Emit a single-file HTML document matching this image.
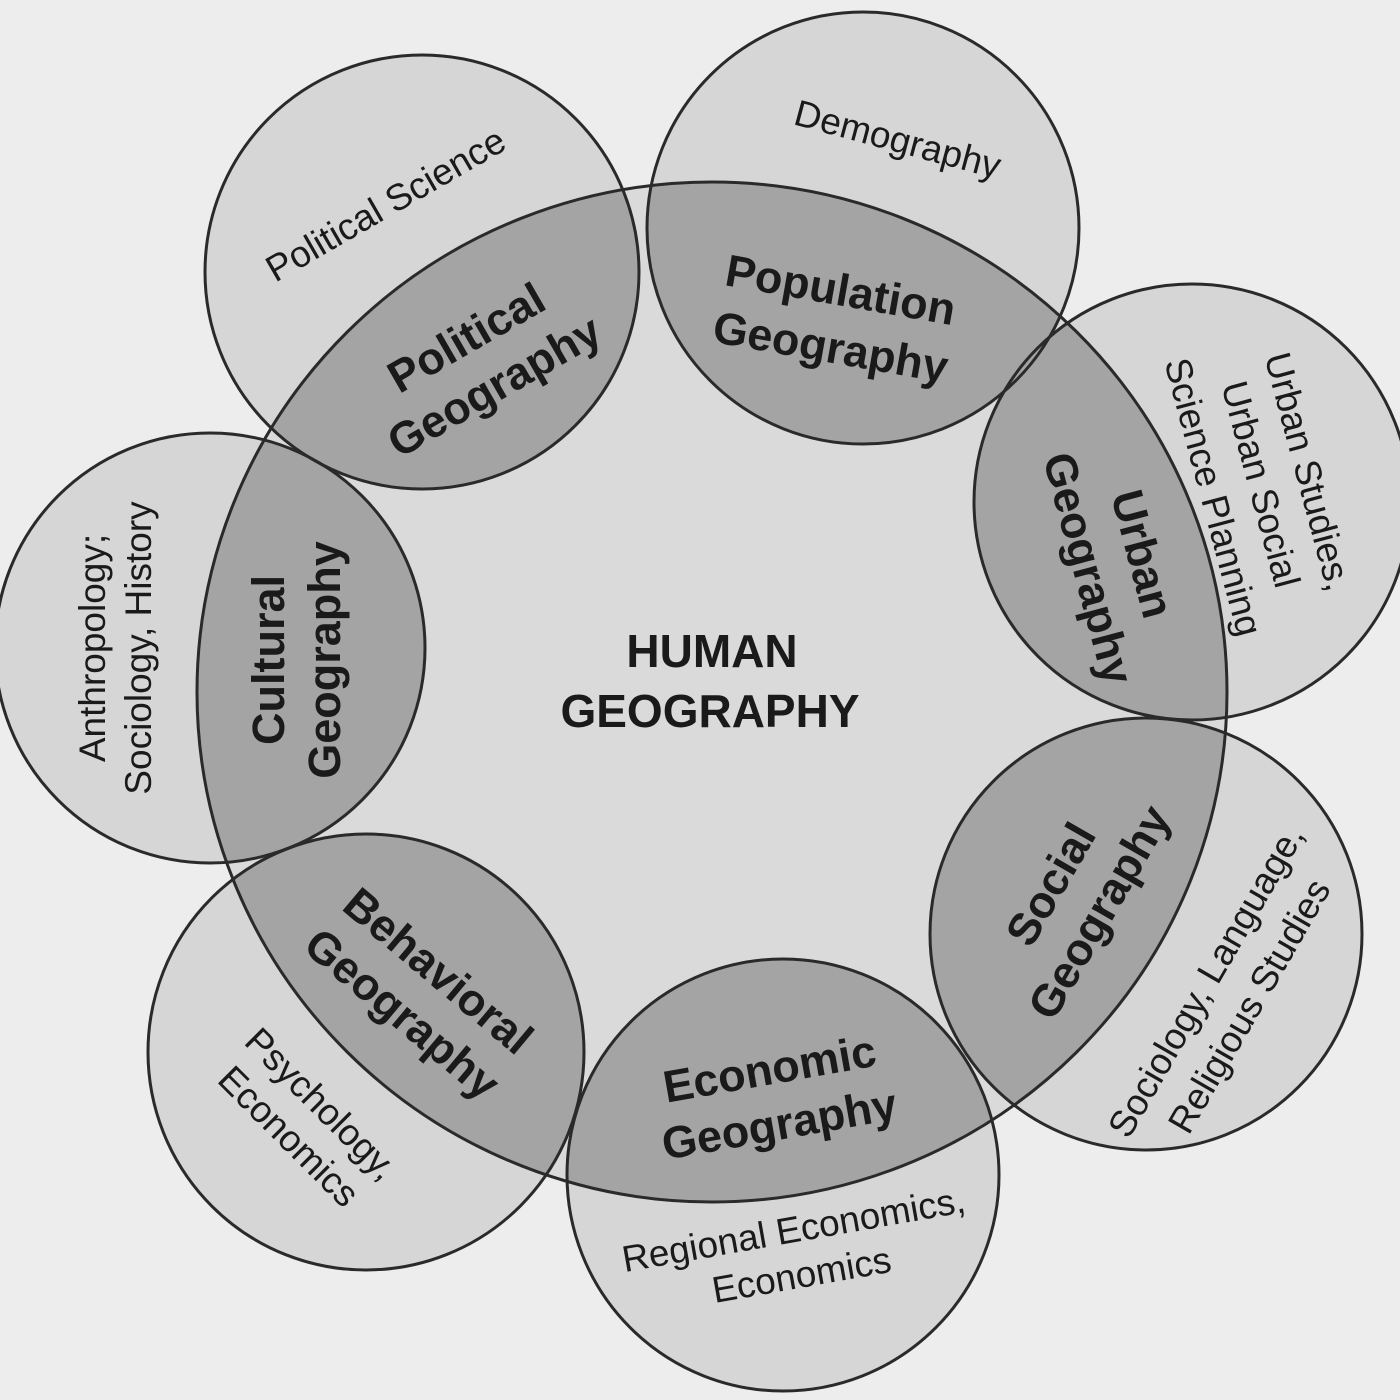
<!DOCTYPE html>
<html><head><meta charset="utf-8"><style>
html,body{margin:0;padding:0;background:#ededed}
svg{display:block}
text{font-family:"Liberation Sans",sans-serif;fill:#1a1a1a;text-anchor:middle;dominant-baseline:middle}
.b{font-weight:bold;font-size:45px}
.n{font-size:37px}
.h{font-weight:bold;font-size:46px}
</style></head><body>
<svg width="1400" height="1400" viewBox="0 0 1400 1400" xmlns="http://www.w3.org/2000/svg">
<defs>
<clipPath id="el"><ellipse cx="712" cy="692" rx="515" ry="510"/></clipPath>
<g id="circs">
<circle cx="422" cy="272" r="217"/>
<circle cx="863" cy="228" r="216"/>
<circle cx="1192" cy="502" r="218"/>
<circle cx="1146" cy="934" r="216"/>
<circle cx="783" cy="1175" r="216"/>
<circle cx="366" cy="1052" r="218"/>
<circle cx="210" cy="648" r="215"/>
</g>
</defs>
<rect width="1400" height="1400" fill="#ededed"/>
<use href="#circs" fill="#d6d6d6"/>
<ellipse cx="712" cy="692" rx="515" ry="510" fill="#dadada"/>
<g clip-path="url(#el)"><use href="#circs" fill="#a4a4a4"/></g>
<use href="#circs" fill="none" stroke="#2a2a2a" stroke-width="3"/>
<ellipse cx="712" cy="692" rx="515" ry="510" fill="none" stroke="#2a2a2a" stroke-width="3"/>

<text class="h" x="712" y="655">HUMAN</text>
<text class="h" x="710" y="715">GEOGRAPHY</text>

<text class="n" transform="translate(387,207) rotate(-30)">Political Science</text>
<text class="n" transform="translate(897,142) rotate(15)">Demography</text>

<g transform="translate(835,322) rotate(10)"><text class="b" y="-29">Population</text><text class="b" y="29">Geography</text></g>
<g transform="translate(482,365) rotate(-30)"><text class="b" y="-28">Political</text><text class="b" y="28">Geography</text></g>
<g transform="translate(300,660) rotate(-90)"><text class="b" y="-28">Cultural</text><text class="b" y="28">Geography</text></g>
<g transform="translate(118,648) rotate(-90)"><text class="n" y="-23">Anthropology;</text><text class="n" y="23">Sociology, History</text></g>
<g transform="translate(1112,562) rotate(75)"><text class="b" y="-28">Urban</text><text class="b" y="28">Geography</text></g>
<g transform="translate(1258,485) rotate(75)"><text class="n" y="-49">Urban Studies,</text><text class="n" y="0">Urban Social</text><text class="n" y="49">Science Planning</text></g>
<g transform="translate(1078,900) rotate(-60)"><text class="b" y="-28">Social</text><text class="b" y="28">Geography</text></g>
<g transform="translate(1230,995) rotate(-60)"><text class="n" y="-25">Sociology, Language,</text><text class="n" y="25">Religious Studies</text></g>
<g transform="translate(775,1100) rotate(-10)"><text class="b" y="-28">Economic</text><text class="b" y="28">Geography</text></g>
<g transform="translate(798,1255) rotate(-10)"><text class="n" y="-23">Regional Economics,</text><text class="n" y="23">Economics</text></g>
<g transform="translate(418,995) rotate(40)"><text class="b" y="-28">Behavioral</text><text class="b" y="28">Geography</text></g>
<g transform="translate(303,1122) rotate(45)"><text class="n" y="-23">Psychology,</text><text class="n" y="23">Economics</text></g>
</svg>
</body></html>
